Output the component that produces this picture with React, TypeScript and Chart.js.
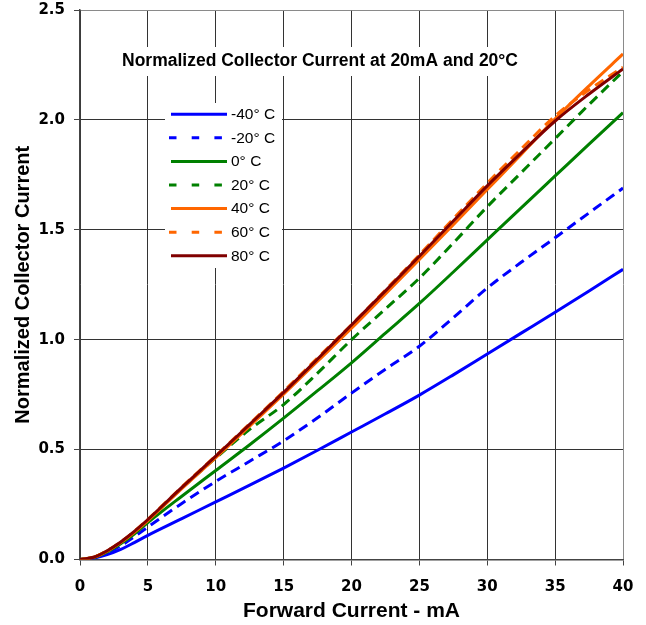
import React, { useEffect, useRef } from 'react';
import { Chart, registerables } from 'chart.js';

Chart.register(...registerables);

// Forward current (mA)
const currents = [0, 1, 2, 3, 4, 5, 7.5, 10, 12.5, 15, 17.5, 20, 22.5, 25, 27.5, 30, 32.5, 35, 37.5, 40];

const seriesLabels = ['-40° C', '-20° C', '0° C', '20° C', '40° C', '60° C', '80° C'];

const tMinus40 = [0, 0.006, 0.022, 0.046, 0.077, 0.11, 0.186, 0.262, 0.338, 0.416, 0.497, 0.58, 0.663, 0.748, 0.84, 0.935, 1.03, 1.125, 1.222, 1.32];
const tMinus20 = [0, 0.007, 0.03, 0.063, 0.103, 0.148, 0.255, 0.355, 0.447, 0.54, 0.645, 0.757, 0.866, 0.97, 1.1, 1.235, 1.352, 1.464, 1.577, 1.69];
const t0 = [0, 0.009, 0.035, 0.072, 0.116, 0.168, 0.288, 0.405, 0.522, 0.643, 0.768, 0.895, 1.03, 1.165, 1.308, 1.454, 1.6, 1.745, 1.89, 2.033];
const t20 = [0, 0.01, 0.039, 0.079, 0.126, 0.18, 0.325, 0.462, 0.592, 0.705, 0.848, 1.0, 1.14, 1.28, 1.44, 1.605, 1.76, 1.915, 2.07, 2.22];
const t40 = [0, 0.01, 0.038, 0.077, 0.124, 0.177, 0.322, 0.463, 0.607, 0.752, 0.902, 1.052, 1.208, 1.365, 1.523, 1.683, 1.843, 2.005, 2.155, 2.3];
const t60 = [0, 0.01, 0.04, 0.08, 0.128, 0.183, 0.33, 0.472, 0.618, 0.765, 0.917, 1.068, 1.226, 1.386, 1.55, 1.712, 1.868, 2.018, 2.137, 2.24];
const t80 = [0, 0.01, 0.04, 0.08, 0.128, 0.182, 0.328, 0.47, 0.615, 0.76, 0.912, 1.067, 1.222, 1.38, 1.54, 1.7, 1.85, 1.995, 2.118, 2.232];

const seriesValues = [tMinus40, tMinus20, t0, t20, t40, t60, t80];
const seriesColors = ['#0000ff', '#0000ff', '#008000', '#008000', '#ff6600', '#ff6600', '#800000'];
const seriesDashed = [false, true, false, true, false, true, false];

const chartTitle = 'Normalized Collector Current at 20mA and 20°C';
const xTitle = 'Forward Current - mA';
const yTitle = 'Normalized Collector Current';

const overlayPlugin = {
  id: 'overlayBoxes',
  beforeDatasetsDraw(chart: any) {
    const ctx = chart.ctx;
    ctx.save();
    // title box inside plot
    ctx.fillStyle = '#ffffff';
    ctx.fillRect(112, 47, 418, 29);
    ctx.fillStyle = '#000000';
    ctx.font = 'bold 17.5px "Liberation Sans", Arial, sans-serif';
    ctx.textAlign = 'center';
    ctx.textBaseline = 'middle';
    ctx.fillText(chartTitle, 320, 61.5);

    // legend box inside plot
    ctx.fillStyle = '#ffffff';
    ctx.fillRect(165, 103, 117, 165);
    chart.data.datasets.forEach((ds: any, i: number) => {
      const y = 114.3 + i * 23.57;
      const dashed = ds.borderDash && ds.borderDash.length > 0;
      ctx.strokeStyle = ds.borderColor;
      ctx.lineWidth = 3;
      ctx.lineCap = 'butt';
      ctx.setLineDash(dashed ? [7.5, 15.2] : []);
      ctx.beginPath();
      ctx.moveTo(dashed ? 169 : 171, y);
      ctx.lineTo(dashed ? 222.5 : 227, y);
      ctx.stroke();
      ctx.setLineDash([]);
      ctx.fillStyle = '#000000';
      ctx.font = '15.5px "Liberation Sans", Arial, sans-serif';
      ctx.textAlign = 'left';
      ctx.textBaseline = 'middle';
      ctx.fillText(ds.label, 231, y + 0.5);
    });
    ctx.restore();
  },
};

export default function App() {
  const canvasRef = useRef<HTMLCanvasElement | null>(null);

  useEffect(() => {
    if (!canvasRef.current) return;
    const datasets = seriesLabels.map((label, i) => ({
      label,
      data: currents.map((x, j) => ({ x, y: seriesValues[i][j] })),
      borderColor: seriesColors[i],
      backgroundColor: seriesColors[i],
      borderWidth: 3,
      borderDash: seriesDashed[i] ? [10, 6] : [],
      pointRadius: 0,
      fill: false,
      cubicInterpolationMode: 'monotone' as const,
      order: seriesLabels.length - i,
    }));

    const gridColor = (c: any, last: number) =>
      c.tick && c.tick.value === last ? '#8a8a8a' : '#333333';

    const chart = new Chart(canvasRef.current, {
      type: 'line',
      data: { datasets },
      plugins: [overlayPlugin],
      options: {
        animation: false,
        responsive: false,
        devicePixelRatio: 1,
        layout: { padding: { top: 10, right: 23, left: 0, bottom: 0 } },
        plugins: {
          legend: { display: false },
          tooltip: { enabled: false },
          title: { display: false },
        },
        scales: {
          x: {
            type: 'linear',
            min: 0,
            max: 40,
            afterFit: (scale: any) => {
              scale.height = 65.5;
              scale.paddingLeft = 0;
              scale.paddingRight = 0;
            },
            ticks: {
              stepSize: 5,
              color: '#000',
              padding: 13,
              maxRotation: 0,
              font: { family: '"DejaVu Sans", sans-serif', weight: 'bold', size: 15 },
            },
            grid: {
              color: (c: any) => gridColor(c, 40),
              lineWidth: 1,
              tickLength: 6,
              tickColor: '#444444',
            },
            border: { color: '#444444', width: 1.5 },
            title: {
              display: true,
              text: xTitle,
              color: '#000',
              padding: { top: 0, bottom: 1 },
              font: { family: '"Liberation Sans", Arial, sans-serif', weight: 'bold', size: 21 },
            },
          },
          y: {
            type: 'linear',
            min: 0,
            max: 2.5,
            afterFit: (scale: any) => {
              scale.width = 80;
              scale.paddingTop = 0;
              scale.paddingBottom = 0;
            },
            ticks: {
              stepSize: 0.5,
              color: '#000',
              padding: 9,
              callback: (v: any) => Number(v).toFixed(1),
              font: { family: '"DejaVu Sans", sans-serif', weight: 'bold', size: 15 },
            },
            grid: {
              color: (c: any) => gridColor(c, 2.5),
              lineWidth: 1,
              tickLength: 6,
              tickColor: '#444444',
            },
            border: { color: '#444444', width: 1.5 },
            title: {
              display: true,
              text: yTitle,
              color: '#000',
              padding: { top: 11, bottom: 0 },
              font: { family: '"Liberation Sans", Arial, sans-serif', weight: 'bold', size: 20 },
            },
          },
        },
      },
    });
    return () => chart.destroy();
  }, []);

  return (
    <div style={{ position: 'fixed', left: 0, top: 0, width: 646, height: 625, background: '#fff' }}>
      <canvas ref={canvasRef} width={646} height={625} style={{ width: 646, height: 625, display: 'block' }} />
    </div>
  );
}
